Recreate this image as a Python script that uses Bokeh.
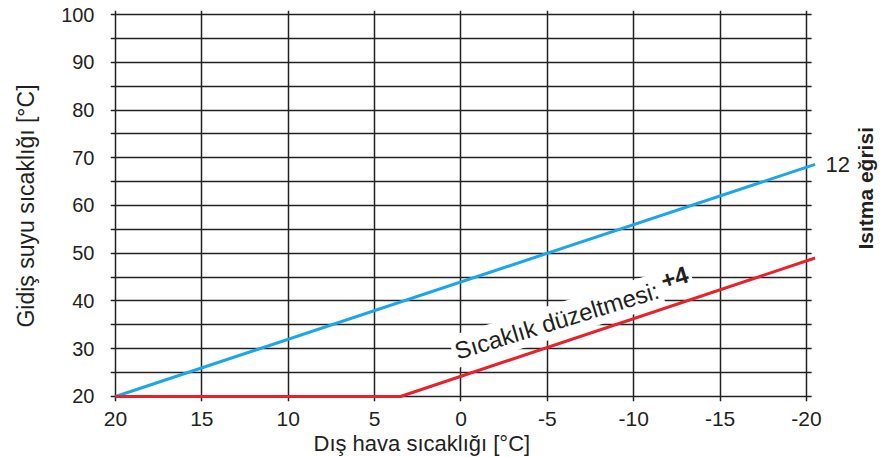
import math
from bokeh.plotting import figure
from bokeh.models import Range1d, FixedTicker, Label, Title, BoxAnnotation
from bokeh.embed import file_html
from bokeh.resources import INLINE

# ---- data ----
outdoor_ticks = [20, 15, 10, 5, 0, -5, -10, -15, -20]
outdoor_labels = ["20", "15", "10", "5", "0", "-5", "-10", "-15", "-20"]
flow_major = [20, 30, 40, 50, 60, 70, 80, 90, 100]
flow_minor = [25, 35, 45, 55, 65, 75, 85, 95]

curve12_x = [20, -20.5]
curve12_y = [20, 68.6]

corrected_x = [20, 3.5, -20.5]
corrected_y = [20, 20, 49.0]

curve_name = "12"
correction_text = "Sıcaklık düzeltmesi:"
correction_value = "+4"
x_title = "Dış hava sıcaklığı [°C]"
y_title = "Gidiş suyu sıcaklığı [°C]"
right_title = "Isıtma eğrisi"

FONT = "Liberation Sans"
TXT = "#231f20"
GRID = "#222222"

p = figure(width=893, height=457,
           x_range=Range1d(20.29, -25.04), y_range=Range1d(18.95, 100.84),
           output_backend="svg", toolbar_location=None,
           min_border_left=110, min_border_right=0,
           min_border_top=10, min_border_bottom=56)

p.outline_line_color = None
p.background_fill_color = "white"
p.border_fill_color = "white"

# grids
p.xgrid.ticker = FixedTicker(ticks=outdoor_ticks)
p.xgrid.grid_line_color = GRID
p.xgrid.grid_line_width = 1.5
p.xgrid.grid_line_alpha = 1
p.ygrid.ticker = FixedTicker(ticks=flow_major, minor_ticks=flow_minor)
p.ygrid.grid_line_color = GRID
p.ygrid.grid_line_width = 1.5
p.ygrid.minor_grid_line_color = GRID
p.ygrid.minor_grid_line_width = 1.5

# blank area right of the chart grid (for side labels)
p.add_layout(BoxAnnotation(left=-20.3, fill_color="white", fill_alpha=1,
                           line_color=None, level="underlay"))

# axes
xa = p.xaxis[0]
xa.ticker = FixedTicker(ticks=outdoor_ticks)
xa.major_label_overrides = dict(zip(outdoor_ticks, outdoor_labels))
xa.axis_line_color = None
xa.major_tick_line_color = None
xa.minor_tick_line_color = None
xa.major_label_standoff = 4
xa.major_label_text_font = FONT
xa.major_label_text_font_size = "21px"
xa.major_label_text_color = TXT

ya = p.yaxis[0]
ya.ticker = FixedTicker(ticks=flow_major)
ya.axis_line_color = None
ya.major_tick_line_color = None
ya.minor_tick_line_color = None
ya.major_label_standoff = 10
ya.major_label_text_font = FONT
ya.major_label_text_font_size = "20px"
ya.major_label_text_color = TXT
ya.axis_label = y_title
ya.axis_label_text_font = FONT
ya.axis_label_text_font_size = "23px"
ya.axis_label_text_font_style = "normal"
ya.axis_label_text_color = TXT
ya.axis_label_standoff = 19

# x title below, shifted left like the reference
xt = Title(text=x_title, align="left", offset=203,
           text_font=FONT, text_font_size="22px", text_font_style="normal",
           text_color=TXT, standoff=0)
p.add_layout(xt, "below")

# curves
p.line(curve12_x, curve12_y, line_color="#1aa7e4", line_width=3)
p.line(corrected_x, corrected_y, line_color="#e8212b", line_width=3)

ang = math.radians(17)
lab1 = Label(x=0.49, y=29.2, text=correction_text, angle=ang,
             text_font=FONT, text_font_size="24px", text_color=TXT,
             text_align="left", text_baseline="alphabetic",
             background_fill_color="white", padding=3)
p.add_layout(lab1)
lab2 = Label(x=-11.44, y=43.9, text=correction_value, angle=ang,
             text_font=FONT, text_font_size="24px", text_font_style="bold",
             text_color=TXT, text_align="left", text_baseline="alphabetic",
             background_fill_color="white", padding=3)
p.add_layout(lab2)

# curve name and side title
p.add_layout(Label(x=-21.1, y=curve12_y[-1], text=curve_name, text_font=FONT,
                   text_font_size="22px", text_color=TXT,
                   text_align="left", text_baseline="middle"))
p.add_layout(Label(x=-23.42, y=63.6, text=right_title, angle=math.pi / 2,
                   text_font=FONT, text_font_size="21px",
                   text_font_style="bold", text_color=TXT,
                   text_align="center", text_baseline="middle"))

open("out.html", "w").write(file_html(p, INLINE))
